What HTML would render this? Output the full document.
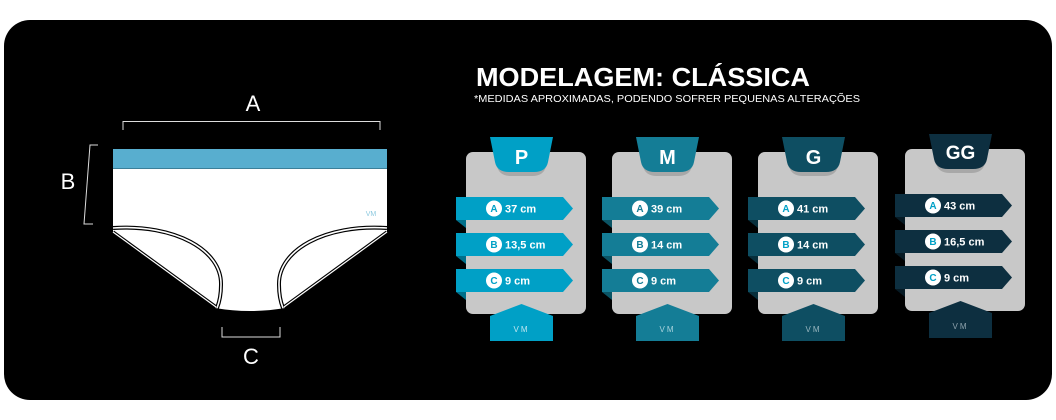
<!DOCTYPE html>
<html><head><meta charset="utf-8"><style>
html,body{margin:0;padding:0;background:#fff;}
svg{display:block}
text{font-family:"Liberation Sans",sans-serif;}
</style></head><body>
<svg width="1056" height="420" viewBox="0 0 1056 420" xmlns="http://www.w3.org/2000/svg">
<rect x="4" y="20" width="1048" height="380" rx="26" fill="#000"/>

<g>
<path d="M113,168 H387 V232 L285,308 Q250,314 215,308 L113,232 Z" fill="#fff"/>
<rect x="113" y="149" width="274" height="19" fill="#58aecf"/>
<line x1="113" y1="168.5" x2="387" y2="168.5" stroke="#3b7f99" stroke-width="1"/>
<path d="M113,228 C175,224 222,250 221,285 C221,296 219,303 217,308" fill="none" stroke="#000" stroke-width="4"/>
<path d="M113,228 C175,224 222,250 221,285 C221,296 219,303 217,308" fill="none" stroke="#fff" stroke-width="1.6"/>
<path d="M387,228 C325,224 278,250 279,285 C279,296 281,303 283,308" fill="none" stroke="#000" stroke-width="4"/>
<path d="M387,228 C325,224 278,250 279,285 C279,296 281,303 283,308" fill="none" stroke="#fff" stroke-width="1.6"/>
<path d="M113,232 L216,307" stroke="#000" stroke-width="3.5"/>
<path d="M113,232 L216,307" stroke="#fff" stroke-width="1.2"/>
<path d="M387,232 L284,307" stroke="#000" stroke-width="3.5"/>
<path d="M387,232 L284,307" stroke="#fff" stroke-width="1.2"/>
<text x="371" y="216" font-size="7" fill="#8cc9df" text-anchor="middle">VM</text>
<path d="M123,130 V121.5 H380 V130" fill="none" stroke="#ddd" stroke-width="1"/>
<text x="253" y="111" font-size="22" fill="#fff" text-anchor="middle">A</text>
<path d="M98,145 H90 L84,224 H93" fill="none" stroke="#ddd" stroke-width="1"/>
<text x="68" y="189" font-size="22" fill="#fff" text-anchor="middle">B</text>
<path d="M222,327 V337 H280 V327" fill="none" stroke="#ddd" stroke-width="1"/>
<text x="251" y="364" font-size="22" fill="#fff" text-anchor="middle">C</text>
</g>

<text x="476" y="86" font-size="26" font-weight="bold" fill="#fff" textLength="334" lengthAdjust="spacingAndGlyphs">MODELAGEM: CLÁSSICA</text>
<text x="474" y="102" font-size="10" fill="#fff" textLength="386" lengthAdjust="spacingAndGlyphs">*MEDIDAS APROXIMADAS, PODENDO SOFRER PEQUENAS ALTERAÇÕES</text>

<g id="cards">
<g>
<rect x="466" y="152" width="120" height="162" rx="7" fill="#c8c8c8"/>
<path d="M492,137 H551 L546,166 Q544,176 532,176 H511 Q499,176 497,166 Z" fill="#a8a8a8"/>
<path d="M490,137 H553 L548,162 Q546,172 534,172 H509 Q497,172 495,162 Z" fill="#00a0c6"/>
<text x="521.5" y="164" font-size="20" font-weight="bold" fill="#fff" text-anchor="middle">P</text>
<g fill="#00a0c6">
<path d="M456,197 H563 L573,208.5 L563,220 H456 Z"/><path d="M456,233 H563 L573,244.5 L563,256 H456 Z"/><path d="M456,269 H563 L573,280.5 L563,292 H456 Z"/>
</g>
<g fill="#006f8a"><path d="M456,220 H466 V228 Z"/><path d="M456,256 H466 V264 Z"/><path d="M456,292 H466 V300 Z"/></g>
<g fill="#fff"><circle cx="494" cy="208.5" r="8"/><circle cx="494" cy="244.5" r="8"/><circle cx="494" cy="280.5" r="8"/></g>
<g font-size="10" font-weight="bold" fill="#00a0c6" text-anchor="middle"><text x="494" y="212">A</text><text x="494" y="248">B</text><text x="494" y="284">C</text></g>
<g font-size="11" font-weight="bold" fill="#fff"><text x="505" y="212.5">37 cm</text><text x="505" y="248.5">13,5 cm</text><text x="505" y="284.5">9 cm</text></g>
<path d="M490,316 L521.5,304 L553,316 V341 H490 Z" fill="#00a0c6"/>
<text x="521.5" y="332" font-size="8" fill="#bfe6f0" text-anchor="middle" letter-spacing="2">VM</text>
</g>
<g transform="translate(146,0)">
<rect x="466" y="152" width="120" height="162" rx="7" fill="#c8c8c8"/>
<path d="M492,137 H551 L546,166 Q544,176 532,176 H511 Q499,176 497,166 Z" fill="#a8a8a8"/>
<path d="M490,137 H553 L548,162 Q546,172 534,172 H509 Q497,172 495,162 Z" fill="#147d96"/>
<text x="521.5" y="164" font-size="20" font-weight="bold" fill="#fff" text-anchor="middle">M</text>
<g fill="#147d96">
<path d="M456,197 H563 L573,208.5 L563,220 H456 Z"/><path d="M456,233 H563 L573,244.5 L563,256 H456 Z"/><path d="M456,269 H563 L573,280.5 L563,292 H456 Z"/>
</g>
<g fill="#0b5465"><path d="M456,220 H466 V228 Z"/><path d="M456,256 H466 V264 Z"/><path d="M456,292 H466 V300 Z"/></g>
<g fill="#fff"><circle cx="494" cy="208.5" r="8"/><circle cx="494" cy="244.5" r="8"/><circle cx="494" cy="280.5" r="8"/></g>
<g font-size="10" font-weight="bold" fill="#147d96" text-anchor="middle"><text x="494" y="212">A</text><text x="494" y="248">B</text><text x="494" y="284">C</text></g>
<g font-size="11" font-weight="bold" fill="#fff"><text x="505" y="212.5">39 cm</text><text x="505" y="248.5">14 cm</text><text x="505" y="284.5">9 cm</text></g>
<path d="M490,316 L521.5,304 L553,316 V341 H490 Z" fill="#147d96"/>
<text x="521.5" y="332" font-size="8" fill="#a9d3dd" text-anchor="middle" letter-spacing="2">VM</text>
</g>
<g transform="translate(292,0)">
<rect x="466" y="152" width="120" height="162" rx="7" fill="#c8c8c8"/>
<path d="M492,137 H551 L546,166 Q544,176 532,176 H511 Q499,176 497,166 Z" fill="#a8a8a8"/>
<path d="M490,137 H553 L548,162 Q546,172 534,172 H509 Q497,172 495,162 Z" fill="#0e4e62"/>
<text x="521.5" y="164" font-size="20" font-weight="bold" fill="#fff" text-anchor="middle">G</text>
<g fill="#0e4e62">
<path d="M456,197 H563 L573,208.5 L563,220 H456 Z"/><path d="M456,233 H563 L573,244.5 L563,256 H456 Z"/><path d="M456,269 H563 L573,280.5 L563,292 H456 Z"/>
</g>
<g fill="#072f3c"><path d="M456,220 H466 V228 Z"/><path d="M456,256 H466 V264 Z"/><path d="M456,292 H466 V300 Z"/></g>
<g fill="#fff"><circle cx="494" cy="208.5" r="8"/><circle cx="494" cy="244.5" r="8"/><circle cx="494" cy="280.5" r="8"/></g>
<g font-size="10" font-weight="bold" fill="#00a0c6" text-anchor="middle"><text x="494" y="212">A</text><text x="494" y="248">B</text><text x="494" y="284">C</text></g>
<g font-size="11" font-weight="bold" fill="#fff"><text x="505" y="212.5">41 cm</text><text x="505" y="248.5">14 cm</text><text x="505" y="284.5">9 cm</text></g>
<path d="M490,316 L521.5,304 L553,316 V341 H490 Z" fill="#0e4e62"/>
<text x="521.5" y="332" font-size="8" fill="#9ab7c0" text-anchor="middle" letter-spacing="2">VM</text>
</g>
<g transform="translate(439,-3)">
<rect x="466" y="152" width="120" height="162" rx="7" fill="#c8c8c8"/>
<path d="M492,137 H551 L546,166 Q544,176 532,176 H511 Q499,176 497,166 Z" fill="#a8a8a8"/>
<path d="M490,137 H553 L548,162 Q546,172 534,172 H509 Q497,172 495,162 Z" fill="#0d2f40"/>
<text x="521.5" y="162" font-size="19" font-weight="bold" fill="#fff" text-anchor="middle">GG</text>
<g fill="#0d2f40">
<path d="M456,197 H563 L573,208.5 L563,220 H456 Z"/><path d="M456,233 H563 L573,244.5 L563,256 H456 Z"/><path d="M456,269 H563 L573,280.5 L563,292 H456 Z"/>
</g>
<g fill="#061a24"><path d="M456,220 H466 V228 Z"/><path d="M456,256 H466 V264 Z"/><path d="M456,292 H466 V300 Z"/></g>
<g fill="#fff"><circle cx="494" cy="208.5" r="8"/><circle cx="494" cy="244.5" r="8"/><circle cx="494" cy="280.5" r="8"/></g>
<g font-size="10" font-weight="bold" fill="#00a0c6" text-anchor="middle"><text x="494" y="212">A</text><text x="494" y="248">B</text><text x="494" y="284">C</text></g>
<g font-size="11" font-weight="bold" fill="#fff"><text x="505" y="212.5">43 cm</text><text x="505" y="248.5">16,5 cm</text><text x="505" y="284.5">9 cm</text></g>
<path d="M490,316 L521.5,304 L553,316 V341 H490 Z" fill="#0d2f40"/>
<text x="521.5" y="332" font-size="8" fill="#8fa3ad" text-anchor="middle" letter-spacing="2">VM</text>
</g>
</g>
</svg>
</body></html>
